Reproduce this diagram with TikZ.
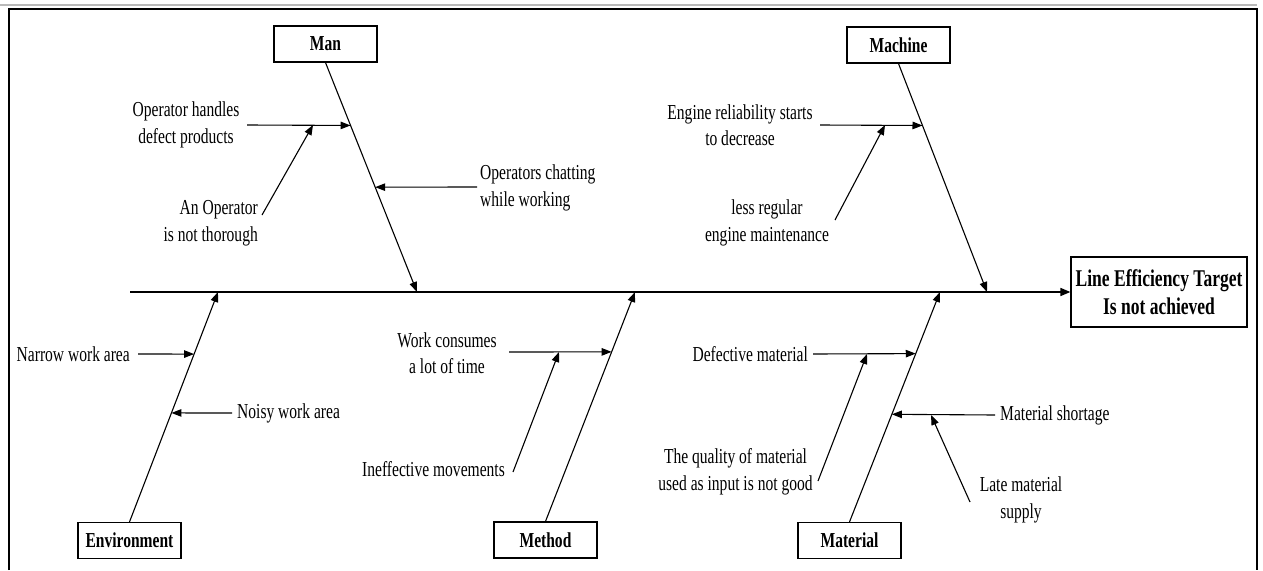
\documentclass[tikz,border=0pt]{standalone}
\usepackage{fontspec}
\setmainfont{Liberation Serif}[FakeStretch=0.73]
\usetikzlibrary{arrows.meta,calc}
\tikzset{
  cat/.style={draw, line width=1.2pt, minimum width=103pt, minimum height=36pt, inner sep=0pt,
    font=\fontsize{21.3}{26}\selectfont\bfseries},
  effectbox/.style={draw, line width=1.2pt, minimum width=176pt, minimum height=70pt, inner sep=0pt,
    align=center, font=\fontsize{24}{28}\selectfont\bfseries},
  lbl/.style={inner sep=0pt, font=\fontsize{21.3}{26.5}\selectfont},
  bone/.style={line width=1.1pt, -{Triangle[length=10pt,width=7.5pt]}},
  spine/.style={line width=1.6pt, -{Triangle[length=10pt,width=8pt]}},
  frameline/.style={line width=2.6pt},
}
\begin{document}
\begin{tikzpicture}[x=1pt,y=-1pt]
\useasboundingbox (0,0) rectangle (1263,570);
% frame
\draw[gray!55, line width=1.2pt] (0,5) -- (1257,5);
\draw[frameline] (9,570) -- (9,9) -- (1257,9) -- (1257,570);

% category boxes
\node[cat] (man) at (325.5,44) {Man};
\node[cat] (machine) at (898.5,45) {Machine};
\node[cat] (env) at (129.5,540.5) {Environment};
\node[cat] (method) at (545.5,540) {Method};
\node[cat] (material) at (849.5,540.5) {Material};
\node[effectbox] (effect) at (1159,292) {Line Efficiency Target\\Is not achieved};

% spine
\coordinate (s0) at (130,292);
\draw[spine] (s0) -- (effect.west);

% bone ends on spine
\coordinate (manS) at (417,292);
\coordinate (machS) at (987,292);
\coordinate (envS) at (218,292);
\coordinate (methS) at (635,292);
\coordinate (matS) at (940,292);

\draw[bone] (man.south) -- (manS);
\draw[bone] (machine.south) -- (machS);
\draw[bone] (env.north) -- (envS);
\draw[bone] (method.north) -- (methS);
\draw[bone] (material.north) -- (matS);

% points on bones
\coordinate (manA) at ($(man.south)!0.274!(manS)$);
\coordinate (manB) at ($(man.south)!0.543!(manS)$);
\coordinate (machA) at ($(machine.south)!0.271!(machS)$);
\coordinate (envA) at ($(env.north)!0.730!(envS)$);
\coordinate (envB) at ($(env.north)!0.474!(envS)$);
\coordinate (methA) at ($(method.north)!0.739!(methS)$);
\coordinate (matA) at ($(material.north)!0.732!(matS)$);
\coordinate (matB) at ($(material.north)!0.468!(matS)$);

% cause arrow starts
\coordinate (manA0) at (247,125);
\coordinate (manB0) at (477,187);
\coordinate (machA0) at (820,125);
\coordinate (envA0) at (138,354);
\coordinate (envB0) at (232,413);
\coordinate (methA0) at (509,352);
\coordinate (matA0) at (813,354);
\coordinate (matB0) at (995,415);

\draw[bone] (manA0) -- (manA);
\draw[bone] (manB0) -- (manB);
\draw[bone] (machA0) -- (machA);
\draw[bone] (envA0) -- (envA);
\draw[bone] (envB0) -- (envB);
\draw[bone] (methA0) -- (methA);
\draw[bone] (matA0) -- (matA);
\draw[bone] (matB0) -- (matB);

% sub-cause arrows
\coordinate (thor0) at (262,215);  \coordinate (manA1) at (313,125);
\coordinate (less0) at (835,220);  \coordinate (machA1) at (885,125);
\coordinate (ineff0) at (513,472); \coordinate (methA1) at (559,352);
\coordinate (qual0) at (818,481);  \coordinate (matA1) at (867,354);
\coordinate (late0) at (970,502);  \coordinate (matB1) at (931,415);

\draw[bone] (thor0) -- (manA1);
\draw[bone] (less0) -- (machA1);
\draw[bone] (ineff0) -- (methA1);
\draw[bone] (qual0) -- (matA1);
\draw[bone] (late0) -- (matB1);

% labels
\node[lbl, align=center] (tOp) at (186,125) {Operator handles\\defect products};
\node[lbl, align=right, anchor=east] (tThor) at (258,223) {An Operator\\is not thorough};
\node[lbl, align=left, anchor=west] (tChat) at (480,188) {Operators chatting\\while working};
\node[lbl, align=center] (tEng) at (740,125) {Engine reliability starts\\to decrease};
\node[lbl, align=center] (tLess) at (767,223) {less regular\\engine maintenance};
\node[lbl, anchor=east] (tNar) at (130,354) {Narrow work area};
\node[lbl, anchor=west] (tNoi) at (237,413) {Noisy work area};
\node[lbl, align=center] (tWork) at (447,353) {Work consumes\\a lot of time};
\node[lbl, anchor=east] (tIne) at (505,469) {Ineffective movements};
\node[lbl, anchor=east] (tDef) at (808,354) {Defective material};
\node[lbl, align=center] (tQual) at (735.5,472) {The quality of material\\used as input is not good};
\node[lbl, anchor=west] (tShort) at (1000,415) {Material shortage};
\node[lbl, align=center] (tLate) at (1021,500) {Late material\\supply};
\end{tikzpicture}
\end{document}
